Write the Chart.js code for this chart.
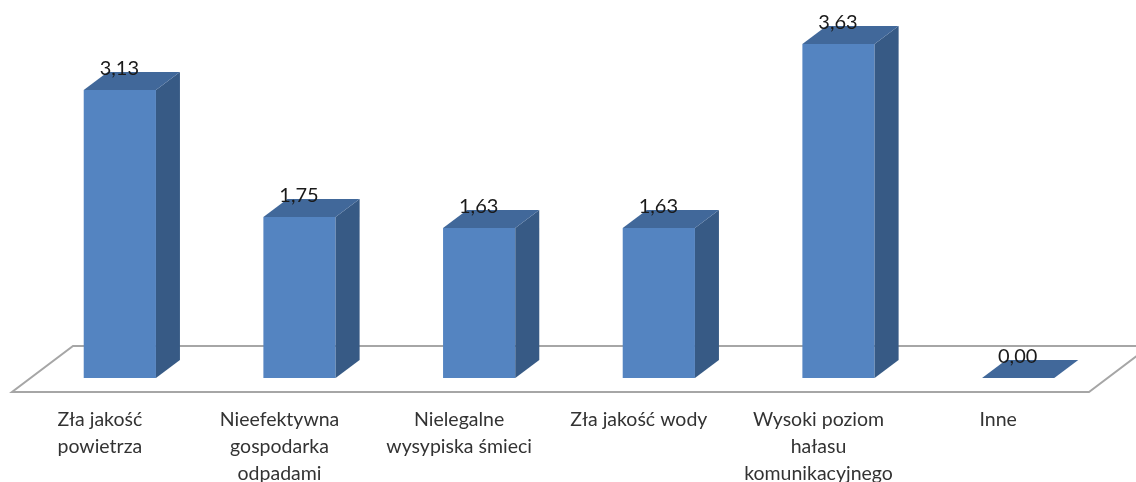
<!DOCTYPE html>
<html lang="pl">
<head>
<meta charset="utf-8">
<title>Wykres</title>
<script src="https://cdn.jsdelivr.net/npm/chart.js@4"></script>
<style>
    html, body { margin: 0; padding: 0; background: #fff; overflow: hidden; }
    canvas { display: block; }
</style>
</head>
<body>
<canvas id="chart" width="1136" height="482"></canvas>
<script>
const categories = [
    ['Zła jakość', 'powietrza'],
    ['Nieefektywna', 'gospodarka', 'odpadami'],
    ['Nielegalne', 'wysypiska śmieci'],
    'Zła jakość wody',
    ['Wysoki poziom', 'hałasu', 'komunikacyjnego'],
    'Inne'
];
const values = [3.13, 1.75, 1.63, 1.63, 3.63, 0.00];

// glebokosc slupka (efekt 3D)
const depthX = 24;
const depthY = 18;

// podloga pod slupkami
const floorPlugin = {
    id: 'floor',
    beforeDatasetsDraw(chart) {
        const c = chart.ctx;
        const base = chart.scales.y.getPixelForValue(0);
        const left = chart.chartArea.left;
        const right = chart.chartArea.right;
        c.save();
        c.strokeStyle = '#a6a6a6';
        c.lineWidth = 2;
        c.beginPath();
        c.moveTo(left - 18, base + 14);
        c.lineTo(right - 19, base + 14);
        c.lineTo(right + 42, base - 32);
        c.lineTo(left + 43, base - 32);
        c.closePath();
        c.stroke();
        c.restore();
    }
};

// boki, gora i etykiety liczone z elementow slupkow
const box3dPlugin = {
    id: 'box3d',
    afterDatasetsDraw(chart) {
        const c = chart.ctx;
        const meta = chart.getDatasetMeta(0);
        meta.data.forEach((bar, i) => {
            const p = bar.getProps(['x', 'y', 'base', 'width'], true);
            const x0 = p.x - p.width / 2;
            const x1 = p.x + p.width / 2;

            c.fillStyle = '#375a85';
            c.beginPath();
            c.moveTo(x1, p.y);
            c.lineTo(x1 + depthX, p.y - depthY);
            c.lineTo(x1 + depthX, p.base - depthY);
            c.lineTo(x1, p.base);
            c.closePath();
            c.fill();

            c.fillStyle = '#41689a';
            c.beginPath();
            c.moveTo(x0, p.y);
            c.lineTo(x0 + depthX, p.y - depthY);
            c.lineTo(x1 + depthX, p.y - depthY);
            c.lineTo(x1, p.y);
            c.closePath();
            c.fill();

            c.fillStyle = '#1a1a1a';
            c.font = '20px Lato';
            c.textAlign = 'center';
            c.textBaseline = 'middle';
            c.fillText(values[i].toFixed(2).replace('.', ','), p.x - 0.5, p.y - 21);
        });
    }
};

new Chart(document.getElementById('chart').getContext('2d'), {
    type: 'bar',
    data: {
        labels: categories,
        datasets: [{
            data: values,
            backgroundColor: '#5484c1',
            borderWidth: 0,
            barPercentage: 0.402,
            categoryPercentage: 1
        }]
    },
    options: {
        responsive: false,
        animation: false,
        layout: { padding: { left: 30, right: 28, top: 10, bottom: 0 } },
        plugins: {
            legend: { display: false },
            tooltip: { enabled: false }
        },
        scales: {
            x: {
                grid: { display: false },
                border: { display: false },
                afterFit: scale => { scale.height = 104; },
                ticks: {
                    autoSkip: false,
                    maxRotation: 0,
                    padding: 20,
                    labelOffset: -20,
                    color: '#333333',
                    font: { family: 'Lato', size: 19.5, lineHeight: 1.385 }
                }
            },
            y: {
                display: false,
                min: 0,
                max: 4
            }
        }
    },
    plugins: [floorPlugin, box3dPlugin]
});
</script>
</body>
</html>
